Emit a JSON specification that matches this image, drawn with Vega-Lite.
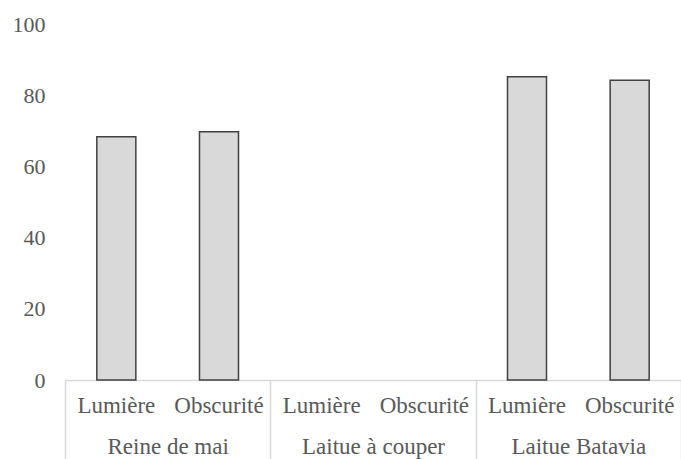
{
  "$schema": "https://vega.github.io/schema/vega-lite/v6.json",
  "width": 616,
  "height": 356,
  "autosize": {"type": "none"},
  "padding": {"left": 65, "top": 24, "right": 0, "bottom": 79},
  "background": "white",
  "config": {
    "view": {"stroke": null},
    "font": "Liberation Serif",
    "axis": {"labelFont": "Liberation Serif"}
  },
  "data": {
    "values": [
      {"key": "Reine de mai|Lumière", "group": "Reine de mai", "condition": "Lumière", "value": 68.3},
      {"key": "Reine de mai|Obscurité", "group": "Reine de mai", "condition": "Obscurité", "value": 69.7},
      {"key": "Laitue à couper|Lumière", "group": "Laitue à couper", "condition": "Lumière", "value": null},
      {"key": "Laitue à couper|Obscurité", "group": "Laitue à couper", "condition": "Obscurité", "value": null},
      {"key": "Laitue Batavia|Lumière", "group": "Laitue Batavia", "condition": "Lumière", "value": 85.2},
      {"key": "Laitue Batavia|Obscurité", "group": "Laitue Batavia", "condition": "Obscurité", "value": 84.2}
    ]
  },
  "layer": [
    {
      "mark": {"type": "bar", "fill": "#d9d9d9", "stroke": "#404040", "strokeWidth": 1.5},
      "encoding": {
        "x": {
          "field": "key",
          "type": "nominal",
          "scale": {
            "domain": ["Reine de mai|Lumière", "Reine de mai|Obscurité", "Laitue à couper|Lumière", "Laitue à couper|Obscurité", "Laitue Batavia|Lumière", "Laitue Batavia|Obscurité"],
            "paddingInner": 0.62,
            "paddingOuter": 0.31
          },
          "axis": {
            "orient": "bottom",
            "title": null,
            "labelExpr": "split(datum.label, '|')[1]",
            "labelAngle": 0,
            "labelFont": "Liberation Serif",
            "labelFontSize": 23,
            "labelColor": "#595959",
            "labelPadding": 14,
            "ticks": false,
            "domain": true,
            "domainColor": "#d9d9d9",
            "domainWidth": 1.5,
            "grid": false
          }
        },
        "y": {
          "field": "value",
          "type": "quantitative",
          "scale": {"domain": [0, 100], "nice": false},
          "axis": {
            "title": null,
            "values": [0, 20, 40, 60, 80, 100],
            "domain": false,
            "ticks": false,
            "grid": false,
            "labelFont": "Liberation Serif",
            "labelFontSize": 22,
            "labelColor": "#595959",
            "labelPadding": 20
          }
        }
      }
    },
    {
      "mark": {"type": "rule", "opacity": 0},
      "encoding": {
        "x": {
          "field": "group",
          "type": "nominal",
          "sort": null,
          "scale": {
            "domain": ["Reine de mai", "Laitue à couper", "Laitue Batavia"],
            "paddingInner": 0,
            "paddingOuter": 0
          },
          "axis": {
            "orient": "bottom",
            "title": null,
            "labelAngle": 0,
            "labelFont": "Liberation Serif",
            "labelFontSize": 23,
            "labelColor": "#595959",
            "labelPadding": -24,
            "domain": false,
            "ticks": true,
            "tickBand": "extent",
            "tickSize": 79,
            "tickColor": "#d9d9d9",
            "tickWidth": 1.5,
            "grid": false
          }
        }
      }
    }
  ],
  "resolve": {"scale": {"x": "independent"}, "axis": {"x": "independent"}}
}
